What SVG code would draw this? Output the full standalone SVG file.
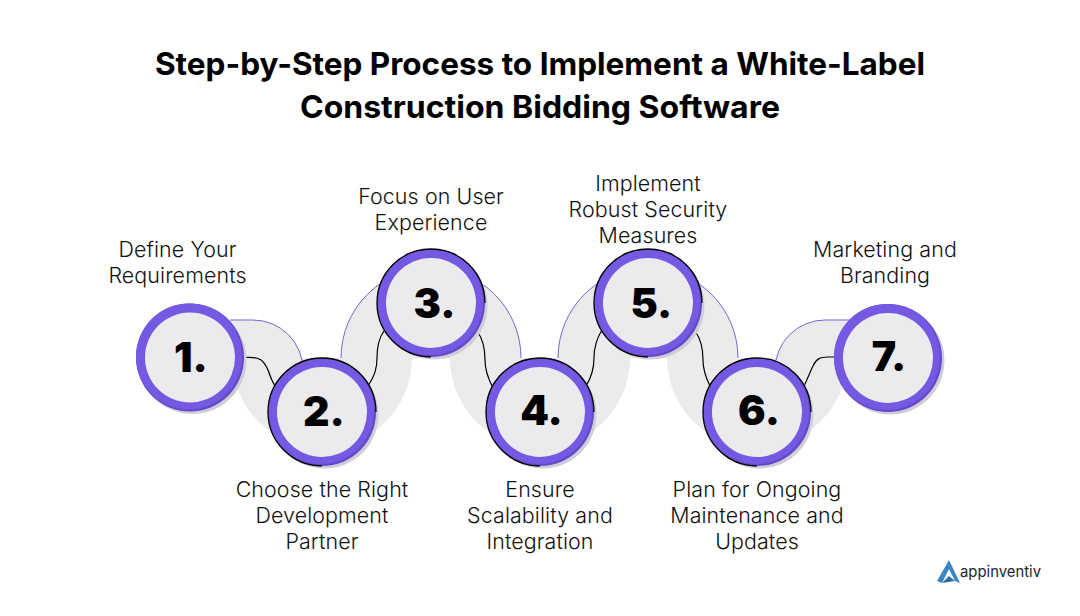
<svg xmlns="http://www.w3.org/2000/svg" width="1080" height="616" viewBox="0 0 1080 616">
<style>
.title{font-family:Inter,"Liberation Sans",sans-serif;font-weight:700;font-size:31.5px;fill:#000;text-anchor:middle}
.lab{font-family:Inter,"Liberation Sans",sans-serif;font-weight:300;font-size:21.4px;letter-spacing:.12px;fill:#111;text-anchor:middle}
.num{font-family:Inter,"Liberation Sans",sans-serif;font-weight:900;font-size:41px;fill:#000;text-anchor:middle}
.band{fill:#ebebeb}
.edge{fill:none;stroke:#7a62dc;stroke-width:1}
.conn{fill:none;stroke:#000;stroke-width:1.2}
.sh{fill:#cfced8}
.dk{fill:#6449c9}
.ring{fill:#7659e2}
.in{fill:#ebebed}
.ol{fill:none;stroke:#000;stroke-width:1.3;stroke-dasharray:0 85 254}
</style>
<rect width="1080" height="616" fill="#fff"/>
<text class="title" x="540" y="75" textLength="770" lengthAdjust="spacingAndGlyphs">Step-by-Step Process to Implement a White-Label</text>
<text class="title" x="540" y="118" textLength="480" lengthAdjust="spacingAndGlyphs">Construction Bidding Software</text>
<g id="bands">
<path class="band" d="M190 320H253A50 50 0 0 1 303 370L322 448L232 358V390H190Z"/>
<path class="band" d="M232 358A90 90 0 0 0 412 358Z"/>
<path class="band" d="M341 358A90 90 0 0 1 521 358Z"/>
<path class="band" d="M450 358A90 90 0 0 0 630 358Z"/>
<path class="band" d="M558 358A90 90 0 0 1 738 358Z"/>
<path class="band" d="M667 358A90 90 0 0 0 847 358Z"/>
<path class="band" d="M775 370A50 50 0 0 1 825 320H888V380H846L775 380Z"/>
<path class="edge" d="M230 320H253A50 50 0 0 1 303 370"/>
<path class="edge" d="M341 358A90 90 0 0 1 521 358"/>
<path class="edge" d="M558 358A90 90 0 0 1 738 358"/>
<path class="edge" d="M775 370A50 50 0 0 1 825 320H850"/>
</g>
<g id="connectors">
<path class="conn" d="M244 357.500C262 356 264 362 268 370C270 376 272 381 275 386"/>
<path class="conn" d="M368 386C375 375 377 368 377 358C377 346 379 338 384 331"/>
<path class="conn" d="M477 331C483 339 485 348 485 360C485 370 488 378 492 386"/>
<path class="conn" d="M586 386C591 378 594 370 594 358C594 346 597 338 602 330"/>
<path class="conn" d="M695 331C701 339 703 348 703 360C703 370 706 378 710 386"/>
<path class="conn" d="M804 386C808 378 810 372 813 366C816 359 820 357 828 357H835"/>
</g>
<g id="node1">
<circle class="sh" cx="192.500" cy="360" r="54"/><circle class="dk" cx="190" cy="357.500" r="54"/><circle class="ring" cx="189" cy="356.500" r="53"/><circle class="in" cx="190" cy="357.500" r="45"/>
<text class="num" x="191" y="371.500">1.</text>
<text class="lab" x="177.500" y="257">Define Your</text><text class="lab" x="177.500" y="283">Requirements</text>
</g>
<g id="node2">
<circle class="sh" cx="324.500" cy="414.500" r="54"/><circle class="dk" cx="322" cy="412" r="54"/><circle class="ring" cx="321" cy="411" r="53"/><circle class="in" cx="322" cy="412" r="45"/><circle class="ol" cx="322" cy="412" r="54"/>
<text class="num" x="324" y="426">2.</text>
<text class="lab" x="322" y="497">Choose the Right</text><text class="lab" x="322" y="523">Development</text><text class="lab" x="322" y="549">Partner</text>
</g>
<g id="node3">
<circle class="sh" cx="433.500" cy="305.500" r="54"/><circle class="dk" cx="431" cy="303" r="54"/><circle class="ring" cx="430" cy="302" r="53"/><circle class="in" cx="431" cy="303" r="45"/><circle class="ol" cx="431" cy="303" r="54"/>
<text class="num" x="434.500" y="318">3.</text>
<text class="lab" x="431" y="204">Focus on User</text><text class="lab" x="431" y="230">Experience</text>
</g>
<g id="node4">
<circle class="sh" cx="542.500" cy="414.500" r="54"/><circle class="dk" cx="540" cy="412" r="54"/><circle class="ring" cx="539" cy="411" r="53"/><circle class="in" cx="540" cy="412" r="45"/><circle class="ol" cx="540" cy="412" r="54"/>
<text class="num" x="541.500" y="425">4.</text>
<text class="lab" x="540" y="497">Ensure</text><text class="lab" x="540" y="523">Scalability and</text><text class="lab" x="540" y="549">Integration</text>
</g>
<g id="node5">
<circle class="sh" cx="650.500" cy="305.500" r="54"/><circle class="dk" cx="648" cy="303" r="54"/><circle class="ring" cx="647" cy="302" r="53"/><circle class="in" cx="648" cy="303" r="45"/><circle class="ol" cx="648" cy="303" r="54"/>
<text class="num" x="651.500" y="318">5.</text>
<text class="lab" x="648" y="191">Implement</text><text class="lab" x="648" y="217">Robust Security</text><text class="lab" x="648" y="243">Measures</text>
</g>
<g id="node6">
<circle class="sh" cx="759.500" cy="414.500" r="54"/><circle class="dk" cx="757" cy="412" r="54"/><circle class="ring" cx="756" cy="411" r="53"/><circle class="in" cx="757" cy="412" r="45"/><circle class="ol" cx="757" cy="412" r="54"/>
<text class="num" x="759" y="425">6.</text>
<text class="lab" x="757" y="497">Plan for Ongoing</text><text class="lab" x="757" y="523">Maintenance and</text><text class="lab" x="757" y="549">Updates</text>
</g>
<g id="node7">
<circle class="sh" cx="890.500" cy="360.500" r="54"/><circle class="dk" cx="888" cy="358" r="54"/><circle class="ring" cx="887" cy="357" r="53"/><circle class="in" cx="888" cy="358" r="45"/>
<text class="num" x="889" y="371">7.</text>
<text class="lab" x="885" y="257">Marketing and</text><text class="lab" x="885" y="283">Branding</text>
</g>
<g id="logo">
<path d="M949 560L960 583L955 581L949 569L942 583L937 581Z" fill="#3a86c6"/>
<path d="M942 583L949 576L955 581Z" fill="#2f6fa8"/>
<text x="960" y="577" font-family="Inter,'Liberation Sans',sans-serif" font-size="15.500" font-weight="400" fill="#1a2433" textLength="81" lengthAdjust="spacingAndGlyphs">appinventiv</text>
</g>
</svg>
